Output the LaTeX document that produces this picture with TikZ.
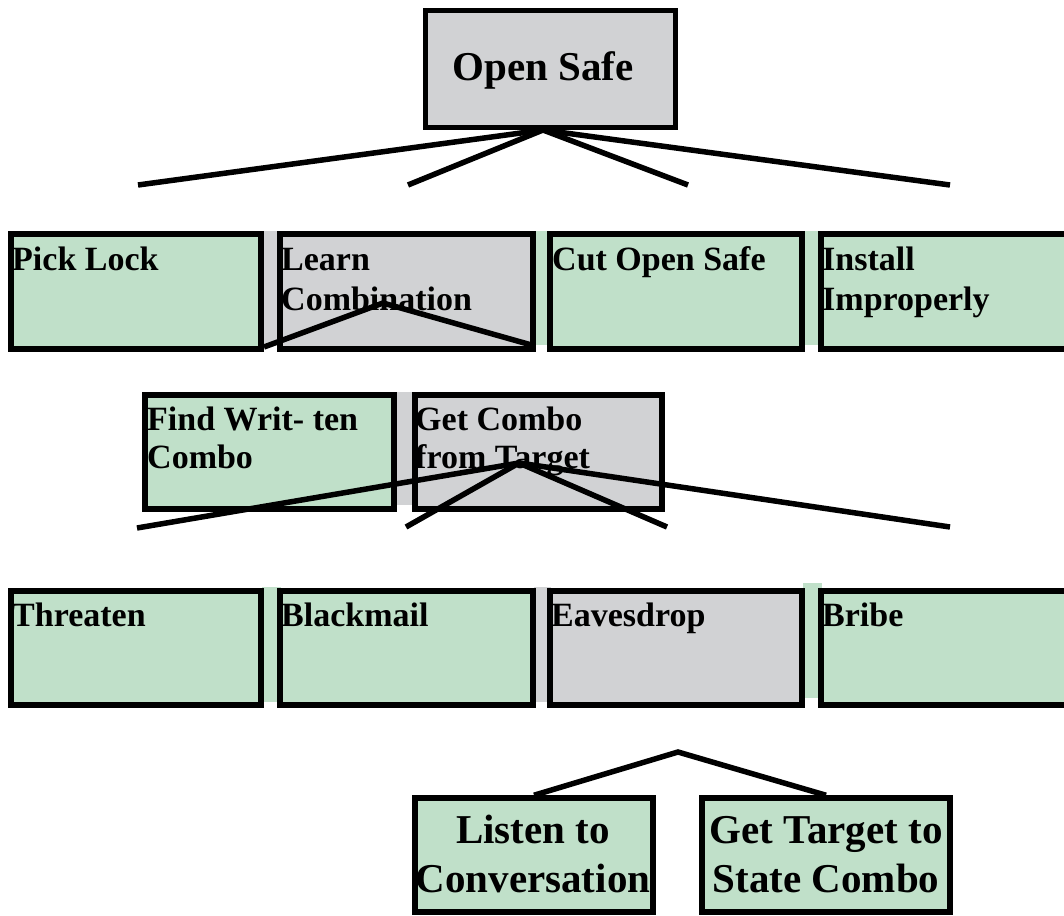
\documentclass[tikz,border=0pt]{standalone}
\usepackage{fontspec}
\setmainfont{Liberation Serif}
\usetikzlibrary{fit}
\definecolor{boxgreen}{RGB}{192,224,201}
\definecolor{boxgray}{RGB}{209,210,212}
\begin{document}
\begin{tikzpicture}[x=1pt,y=-1pt,
  frame/.style={draw=black, line width=5.5pt, inner sep=0pt},
  gfill/.style={fill=boxgreen},
  kfill/.style={fill=boxgray},
  conn/.style={draw=black, line width=5.5pt},
  lbl/.style={font=\bfseries\fontsize{34}{40}\selectfont, inner sep=0pt, anchor=base west, align=left},
  big/.style={font=\bfseries\fontsize{41}{49}\selectfont, inner sep=0pt, anchor=base, align=center}]
\useasboundingbox[fill=white] (0,0) rectangle (1064,915);
% gap strips of the fills
\fill[boxgray]  (262,231) rectangle (281,345);
\fill[boxgreen] (534,231) rectangle (551,345);
\fill[boxgreen] (803,231) rectangle (822,345);
\fill[boxgray]  (395,392) rectangle (415,505);
\fill[boxgreen] (262,587) rectangle (281,702);
\fill[boxgray]  (534,587) rectangle (551,702);
\fill[boxgreen] (803,583) rectangle (822,698);
% boxes
\node[frame,kfill,fit={(425.5,10.5)(675.5,127.5)}] (os) {};
\node[frame,gfill,fit={(11,234)(261,349)}] (pl) {};
\node[frame,kfill,fit={(280,234)(533,349)}] (lc) {};
\node[frame,gfill,fit={(550,234)(802,349)}] (co) {};
\node[frame,gfill,fit={(821,234)(1075,349)}] (ii) {};
\node[frame,gfill,fit={(145,395)(394,509)}] (fw) {};
\node[frame,kfill,fit={(415,395)(662,509)}] (gc) {};
\node[frame,gfill,fit={(11,591)(261,705)}] (th) {};
\node[frame,gfill,fit={(280,591)(533,705)}] (bm) {};
\node[frame,kfill,fit={(550,591)(802,705)}] (ev) {};
\node[frame,gfill,fit={(821,591)(1075,705)}] (br) {};
\node[frame,gfill,fit={(415,798)(653,912)}] (lt) {};
\node[frame,gfill,fit={(702,798)(950,912)}] (gt) {};
% labels (anchored at the baseline of the last line)
\node[big] (tos) at (543,81) {Open Safe};
\node[lbl] (tpl) at (12,270) {Pick Lock};
\node[lbl] (tlc) at (281,310) {Learn\\Combination};
\node[lbl] (tco) at (552,270) {Cut Open Safe};
\node[lbl] (tii) at (822,310) {Install\\Improperly};
\node[lbl,font=\bfseries\fontsize{34}{38}\selectfont] (tfw) at (147,468) {Find Writ- ten\\Combo};
\node[lbl,font=\bfseries\fontsize{34}{38}\selectfont] (tgc) at (415,468) {Get Combo\\from Target};
\node[lbl] (tth) at (12,626) {Threaten};
\node[lbl] (tbm) at (281,626) {Blackmail};
\node[lbl] (tev) at (551,626) {Eavesdrop};
\node[lbl] (tbr) at (822,626) {Bribe};
\node[big] (tlt) at (533,892) {Listen to\\Conversation};
\node[big] (tgt) at (826,892) {Get Target to\\State Combo};
% connector points
\coordinate (osa) at (543,130);
\coordinate (a1) at (138,185);
\coordinate (a2) at (408,185);
\coordinate (a3) at (688,185);
\coordinate (a4) at (950,185);
\coordinate (lca) at (383,303);
\coordinate (b1) at (264,347);
\coordinate (b2) at (535,346);
\coordinate (gca) at (519,463);
\coordinate (c1) at (137,528);
\coordinate (c2) at (406,527);
\coordinate (c3) at (667,527);
\coordinate (c4) at (950,527);
\coordinate (eva) at (678,752);
% connectors
\draw[conn] (a1) -- (osa) -- (a4);
\draw[conn] (a2) -- (osa) -- (a3);
\draw[conn] (b1) -- (lca) -- (b2);
\draw[conn] (c1) -- (gca) -- (c4);
\draw[conn] (c2) -- (gca) -- (c3);
\draw[conn] (lt.north) -- (eva) -- (gt.north);
\end{tikzpicture}
\end{document}
